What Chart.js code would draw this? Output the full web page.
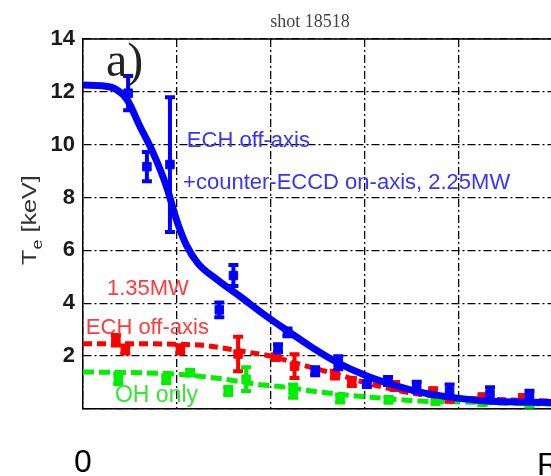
<!DOCTYPE html>
<html>
<head>
<meta charset="utf-8">
<script src="https://cdn.jsdelivr.net/npm/chart.js@4/dist/chart.umd.min.js"></script>
<style>
  html, body { margin:0; padding:0; background:#fff; overflow:hidden; }
  #wrap { width:600px; height:476px; }
</style>
</head>
<body>
<div id="wrap"><canvas id="c" width="600" height="476"></canvas></div>
<script>
// ---- data (x = normalised radius, y = Te in keV) ----
const blueFitX = [0, 0.045, 0.07, 0.094, 0.121, 0.149, 0.178, 0.2, 0.22, 0.245, 0.285, 0.334, 0.391, 0.44, 0.483, 0.54, 0.604, 0.668, 0.717, 0.781, 0.86, 1.0];
const blueFitY = [12.26, 12.22, 12.1, 11.7, 10.7, 9.7, 8.4, 7.1, 6.2, 5.5, 4.9, 4.26, 3.5, 2.9, 2.38, 1.77, 1.25, 0.87, 0.64, 0.45, 0.3, 0.25];
const bluePtsX = [0.096, 0.136, 0.185, 0.29, 0.32, 0.415, 0.435, 0.494, 0.543, 0.604, 0.649, 0.71, 0.78, 0.866, 0.95];
const bluePtsY = [11.95, 9.17, 9.25, 3.75, 5.05, 2.3, 2.9, 1.43, 1.75, 0.94, 1.06, 0.83, 0.68, 0.57, 0.49];
const bluePtsErr = [0.65, 0.55, 2.55, 0.28, 0.4, 0.15, 0.15, 0.15, 0.25, 0.1, 0.15, 0.2, 0.25, 0.25, 0.2];

const redFitX = [0, 0.1, 0.2, 0.26, 0.3, 0.35, 0.4, 0.45, 0.5, 0.55, 0.6, 0.65, 0.7, 0.75, 0.85, 1.0];
const redFitY = [2.47, 2.47, 2.45, 2.4, 2.3, 2.15, 2.0, 1.75, 1.5, 1.27, 1.0, 0.78, 0.6, 0.48, 0.38, 0.3];
const redPtsX = [0.07, 0.09, 0.207, 0.33, 0.41, 0.45, 0.536, 0.572, 0.664, 0.745, 0.78, 0.85, 0.936];
const redPtsY = [2.6, 2.25, 2.26, 2.08, 1.96, 1.62, 1.3, 1.02, 0.87, 0.68, 0.38, 0.45, 0.38];
const redPtsErr = [0.2, 0.15, 0.15, 0.65, 0.1, 0.45, 0.15, 0.15, 0.15, 0.1, 0.1, 0.1, 0.15];

const greenFitX = [0, 0.1, 0.2, 0.3, 0.368, 0.42, 0.504, 0.61, 0.717, 0.82, 0.9, 1.0];
const greenFitY = [1.4, 1.38, 1.32, 1.13, 0.94, 0.85, 0.64, 0.45, 0.3, 0.26, 0.22, 0.18];
const greenPtsX = [0.075, 0.177, 0.228, 0.309, 0.347, 0.447, 0.547, 0.65, 0.75, 0.85, 0.95];
const greenPtsY = [1.15, 1.13, 1.38, 0.68, 1.13, 0.68, 0.4, 0.35, 0.3, 0.25, 0.2];
const greenPtsErr = [0.2, 0.15, 0.1, 0.15, 0.45, 0.25, 0.15, 0.1, 0.1, 0.1, 0.1];

const yTickValues = [2, 4, 6, 8, 10, 12, 14];
const xTickLabels = { 0: '0' };
const titleText = 'shot 18518';
const panelLabel = 'a)';
const blueNote1 = 'ECH off-axis';
const blueNote2 = '+counter-ECCD on-axis, 2.25MW';
const redNote1 = '1.35MW';
const redNote2 = 'ECH off-axis';
const greenNote = 'OH only';

const pts = (xs, ys) => xs.map((x, i) => ({ x, y: ys[i] }));

const BLUE = '#0000ff', RED = '#ff0000', GREEN = '#00ee00';

const overlay = {
  id: 'overlay',
  afterDatasetDraw(chart, args) {
    const ds = chart.data.datasets[args.index];
    if (!ds.err) return;
    const ctx = chart.ctx, xs = chart.scales.x, ys = chart.scales.y;
    ctx.save();
    ctx.strokeStyle = ds.borderColor;
    ctx.lineWidth = 4;
    ds.data.forEach((p, i) => {
      const e = ds.err[i];
      const px = xs.getPixelForValue(p.x);
      const y1 = ys.getPixelForValue(p.y + e), y2 = ys.getPixelForValue(p.y - e);
      ctx.beginPath();
      ctx.moveTo(px, y1); ctx.lineTo(px, y2);
      ctx.moveTo(px - 5, y1); ctx.lineTo(px + 5, y1);
      ctx.moveTo(px - 5, y2); ctx.lineTo(px + 5, y2);
      ctx.stroke();
    });
    ctx.restore();
  },
  afterDraw(chart) {
    const ctx = chart.ctx, a = chart.chartArea, xs = chart.scales.x, ys = chart.scales.y;
    ctx.save();
    // top frame line
    ctx.strokeStyle = '#000'; ctx.lineWidth = 1.5; ctx.setLineDash([]);
    ctx.beginPath(); ctx.moveTo(a.left, a.top); ctx.lineTo(a.right, a.top); ctx.stroke();

    // title
    ctx.fillStyle = '#444';
    ctx.font = '18px "Liberation Serif", serif';
    ctx.textAlign = 'center'; ctx.textBaseline = 'alphabetic';
    ctx.fillText(titleText, 310, 27);

    // panel label
    ctx.fillStyle = '#222';
    ctx.font = '48px "Liberation Serif", serif';
    ctx.textAlign = 'left';
    ctx.fillText(panelLabel, 106, 76);

    // annotations (positioned in data coordinates)
    const note = (txt, x, y, col) => {
      ctx.fillStyle = col;
      ctx.textAlign = 'left'; ctx.textBaseline = 'middle';
      ctx.fillText(txt, xs.getPixelForValue(x), ys.getPixelForValue(y));
    };
    ctx.font = '22px "Liberation Sans", Arial, sans-serif';
    note(blueNote1, 0.221, 10.15, '#3535ff');
    note(blueNote2, 0.213, 8.55, '#3535ff');
    note(redNote1, 0.051, 4.55, '#ff3b3b');
    note(redNote2, 0.006, 3.05, '#ff3b3b');
    ctx.font = '23px "Liberation Sans", Arial, sans-serif';
    note(greenNote, 0.068, 0.5, '#35e635');

    // y axis title  T_e [keV]
    ctx.save();
    ctx.translate(36, 265);
    ctx.rotate(-Math.PI / 2);
    ctx.scale(1.2, 1);
    ctx.fillStyle = '#333';
    ctx.textAlign = 'left'; ctx.textBaseline = 'alphabetic';
    ctx.font = '21px "Liberation Sans", Arial, sans-serif';
    ctx.fillText('T', 0, 0);
    let w = ctx.measureText('T').width;
    ctx.font = '15px "Liberation Sans", Arial, sans-serif';
    ctx.fillText('e', w, 6);
    w += ctx.measureText('e').width;
    ctx.font = '21px "Liberation Sans", Arial, sans-serif';
    ctx.fillText(' [keV]', w, 0);
    ctx.restore();

    // right partial x label
    ctx.fillStyle = '#000';
    ctx.font = '32px "Liberation Sans", Arial, sans-serif';
    ctx.textAlign = 'left'; ctx.textBaseline = 'alphabetic';
    ctx.fillText('R', 537, 475);
    ctx.restore();
  }
};

new Chart(document.getElementById('c'), {
  type: 'scatter',
  data: {
    datasets: [
      { label: 'blue fit', data: pts(blueFitX, blueFitY), showLine: true, borderColor: BLUE, borderWidth: 7,
        pointRadius: 0, cubicInterpolationMode: 'monotone', order: 1 },
      { label: 'blue data', data: pts(bluePtsX, bluePtsY), err: bluePtsErr, borderColor: BLUE, backgroundColor: BLUE,
        pointStyle: 'rect', pointRadius: 6, order: 0 },
      { label: 'red fit', data: pts(redFitX, redFitY), showLine: true, borderColor: RED, borderWidth: 5, borderDash: [9, 5],
        pointRadius: 0, cubicInterpolationMode: 'monotone', order: 3 },
      { label: 'red data', data: pts(redPtsX, redPtsY), err: redPtsErr, borderColor: RED, backgroundColor: RED,
        pointStyle: 'rect', pointRadius: 6, order: 2 },
      { label: 'green fit', data: pts(greenFitX, greenFitY), showLine: true, borderColor: GREEN, borderWidth: 5, borderDash: [11, 5],
        pointRadius: 0, cubicInterpolationMode: 'monotone', order: 5 },
      { label: 'green data', data: pts(greenPtsX, greenPtsY), err: greenPtsErr, borderColor: GREEN, backgroundColor: GREEN,
        pointStyle: 'rect', pointRadius: 6, order: 4 }
    ]
  },
  options: {
    responsive: false,
    animation: false,
    layout: { padding: { left: 0, right: 47, top: 39, bottom: 0 } },
    plugins: { legend: { display: false }, tooltip: { enabled: false }, title: { display: false } },
    scales: {
      x: {
        type: 'linear', min: 0, max: 1,
        afterFit: s => { s.height = 67; },
        ticks: {
          stepSize: 0.2, padding: 35, maxRotation: 0, autoSkip: false,
          color: '#000', font: { family: '"Liberation Sans", Arial, sans-serif', size: 32 },
          callback: v => (xTickLabels[v] !== undefined ? xTickLabels[v] : '')
        },
        grid: { color: '#000', lineWidth: 1.3, drawTicks: false },
        border: { display: true, color: '#000', width: 1.5, dash: [8, 3, 2, 3] }
      },
      y: {
        type: 'linear', min: 0, max: 14,
        afterFit: s => { s.width = 83; },
        afterBuildTicks: s => { s.ticks = [0].concat(yTickValues).map(v => ({ value: v })); },
        ticks: {
          padding: 8, color: '#1a1a1a',
          font: { family: '"Liberation Sans", Arial, sans-serif', size: 22, weight: 'bold' },
          callback: v => (yTickValues.includes(v) ? String(v) : '')
        },
        grid: { color: '#000', lineWidth: 1.3, drawTicks: false },
        border: { display: true, color: '#000', width: 1.5, dash: [8, 3, 2, 3] }
      }
    }
  },
  plugins: [overlay]
});
</script>
</body>
</html>
